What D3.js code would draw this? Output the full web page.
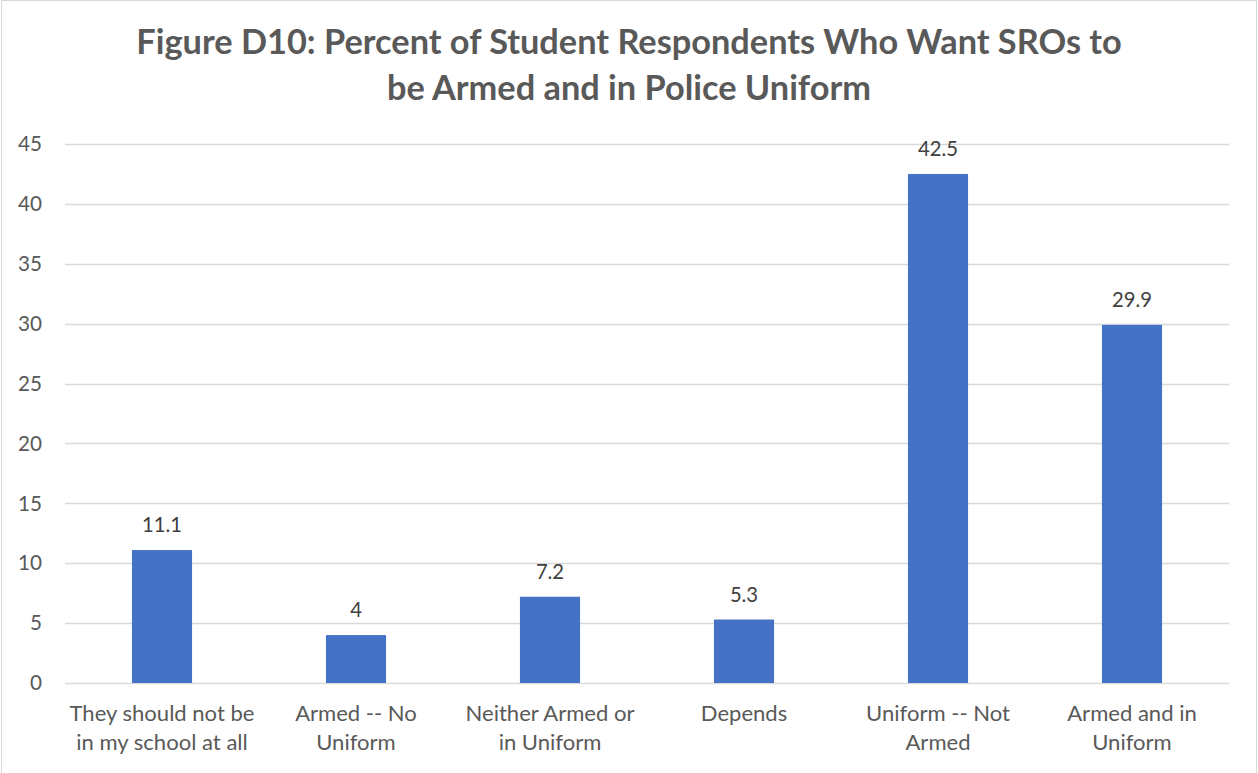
<!DOCTYPE html>
<html><head><meta charset="utf-8">
<script src="https://cdn.jsdelivr.net/npm/d3@7"></script>
<style>html,body{margin:0;padding:0;background:#fff;overflow:hidden}</style>
</head><body>
<svg id="chart" width="1258" height="773"></svg>
<script>
const titleLines = ["Figure D10: Percent of Student Respondents Who Want SROs to", "be Armed and in Police Uniform"];
const categories = [
  ["They should not be", "in my school at all"],
  ["Armed -- No", "Uniform"],
  ["Neither Armed or", "in Uniform"],
  ["Depends"],
  ["Uniform -- Not", "Armed"],
  ["Armed and in", "Uniform"]
];
const values = [11.1, 4, 7.2, 5.3, 42.5, 29.9];
const valueLabels = ["11.1", "4", "7.2", "5.3", "42.5", "29.9"];
const yTicks = [0, 5, 10, 15, 20, 25, 30, 35, 40, 45];

const FONT = "Lato, 'Open Sans', sans-serif";
const svg = d3.select("#chart");
svg.append("rect").attr("x", 1.5).attr("y", 0.5).attr("width", 1255).attr("height", 790)
  .attr("fill", "#fff").attr("stroke", "#d9d9d9").attr("stroke-width", 1);

const margin = {left: 65, right: 1229, top: 144, bottom: 683};
const x = d3.scaleBand().domain(d3.range(categories.length))
  .range([margin.left, margin.right]).paddingInner(0.69).paddingOuter(0.345);
const y = d3.scaleLinear().domain([0, 45]).range([margin.bottom, margin.top]);

function fit(sel, target) {
  const node = sel.node();
  const w = node.getComputedTextLength();
  const fs = parseFloat(sel.attr("font-size"));
  return fs * target / w;
}

// gridlines
svg.append("g").selectAll("line").data(yTicks).join("line")
  .attr("x1", margin.left).attr("x2", margin.right)
  .attr("y1", d => Math.round(y(d)) + 0.5).attr("y2", d => Math.round(y(d)) + 0.5)
  .attr("stroke", "#d9d9d9").attr("stroke-width", 1.5);

// y axis labels
const yl = svg.append("g").selectAll("text").data(yTicks).join("text")
  .attr("x", 42).attr("y", d => y(d)).attr("dy", "0.35em")
  .attr("text-anchor", "end").attr("font-family", FONT).attr("font-size", 18)
  .attr("fill", "#595959").text(d => d);
const yfs = fit(yl.filter(d => d === 45), 24);
yl.attr("font-size", yfs);

// bars
svg.append("g").selectAll("rect").data(values).join("rect")
  .attr("x", (d, i) => x(i)).attr("width", x.bandwidth())
  .attr("y", d => y(d)).attr("height", d => y(0) - y(d))
  .attr("fill", "#4472c4");

// data labels
const dl = svg.append("g").selectAll("text").data(values).join("text")
  .attr("x", (d, i) => x(i) + x.bandwidth() / 2).attr("y", d => y(d) - 18)
  .attr("text-anchor", "middle").attr("font-family", FONT).attr("font-size", 18)
  .attr("fill", "#404040").text((d, i) => valueLabels[i]);
dl.attr("font-size", fit(dl.filter((d, i) => i === 0), 40));

// category labels
const cg = svg.append("g").selectAll("text").data(categories).join("text")
  .attr("x", (d, i) => x(i) + x.bandwidth() / 2).attr("y", 721)
  .attr("text-anchor", "middle").attr("font-family", FONT).attr("font-size", 18)
  .attr("fill", "#595959");
cg.selectAll("tspan").data(d => d).join("tspan")
  .attr("x", function() { return d3.select(this.parentNode).attr("x"); })
  .attr("dy", (d, j) => j === 0 ? 0 : 29).text(d => d);
const probe = svg.append("text").attr("font-family", FONT).attr("font-size", 18).text(categories[0][0]);
const cfs = fit(probe, 185); probe.remove();
cg.attr("font-size", cfs);

// title
const tt = svg.append("g").selectAll("text").data(titleLines).join("text")
  .attr("x", 629).attr("y", (d, i) => i === 0 ? 54 : 100)
  .attr("text-anchor", "middle").attr("font-family", FONT).attr("font-weight", "bold")
  .attr("font-size", 28).attr("fill", "#595959").text(d => d);
tt.attr("font-size", fit(tt.filter((d, i) => i === 0), 986));
</script>
</body></html>
